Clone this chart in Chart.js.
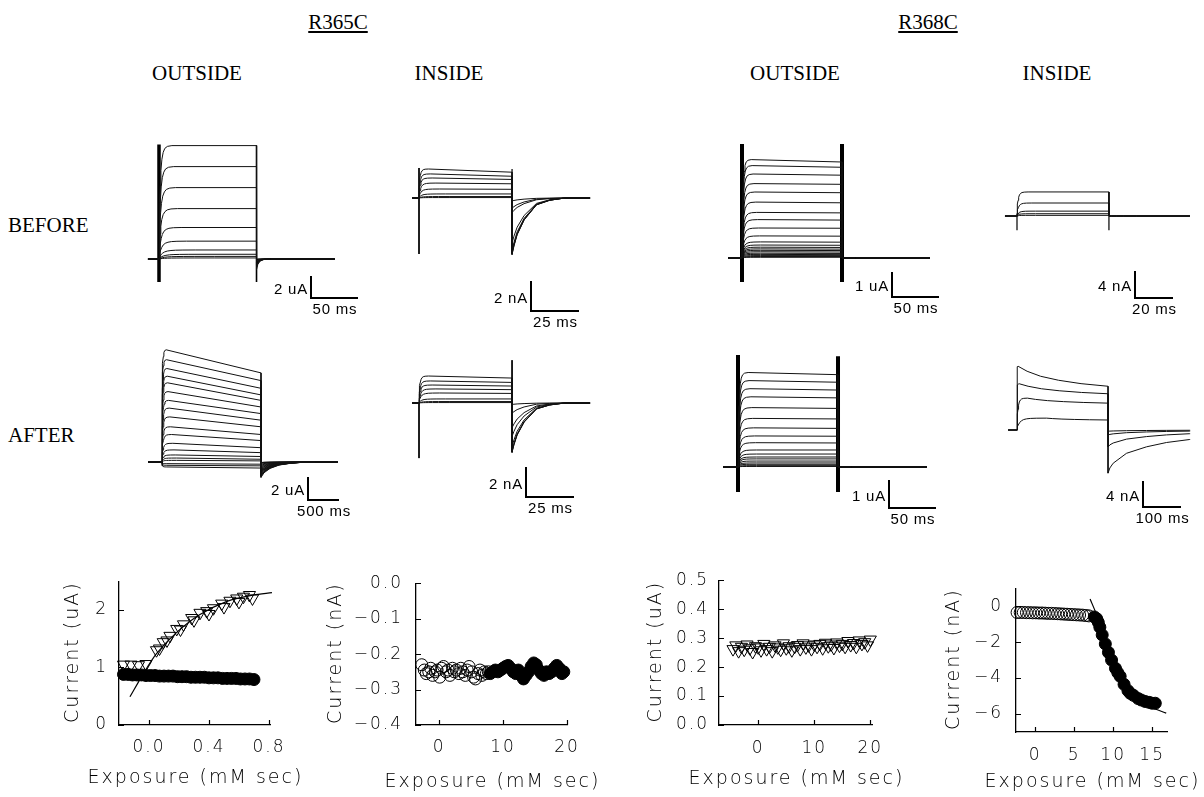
<!DOCTYPE html>
<html><head><meta charset="utf-8">
<script src="https://cdn.jsdelivr.net/npm/chart.js@4.4.1/dist/chart.umd.min.js"></script>
<style>
html,body{margin:0;padding:0;background:#fff;}
body{width:1204px;height:797px;position:relative;overflow:hidden;}
.lbl{position:absolute;font-family:"Liberation Serif","Times New Roman",serif;font-size:21px;line-height:22px;color:#000;white-space:nowrap;transform:translate(-50%,-50%);}
.row{position:absolute;font-family:"Liberation Serif","Times New Roman",serif;font-size:21px;line-height:22px;color:#000;white-space:nowrap;transform:translateY(-50%);}
.u{text-decoration:underline;text-underline-offset:2px;}
canvas{position:absolute;}
</style></head><body>
<div class="lbl u" style="left:338px;top:22px">R365C</div>
<div class="lbl u" style="left:928px;top:22px">R368C</div>
<div class="lbl" style="left:197px;top:73px">OUTSIDE</div>
<div class="lbl" style="left:449px;top:73px">INSIDE</div>
<div class="lbl" style="left:795px;top:73px">OUTSIDE</div>
<div class="lbl" style="left:1057px;top:73px">INSIDE</div>
<div class="row" style="left:8px;top:225px">BEFORE</div>
<div class="row" style="left:8px;top:435px">AFTER</div>
<script>
// ===== Current-trace families =====
// R365C outside, before (uA, ms)
const r365OutBeforeStart = [10.8, 8.8, 6.8, 4.8, 3.0, 1.7, 0.86, 0.45, 0.25, 0.1];
const r365OutBeforeEnd   = [10.8, 8.8, 6.8, 4.8, 3.0, 1.7, 0.86, 0.45, 0.25, 0.1];
const r365OutBeforeTail  = [-1.0, -0.8, -0.6, -0.5, -0.4, -0.3, -0.2, -0.1, -0.05, 0];
const r365OutBeforeRise  = [0.7, 0.8, 0.9, 1.0, 1.2, 1.5, 2, 2.5, 3, 3];
const r365OutBeforeArtifacts = [[0, 10.9, -2.2], [106, 10.8, -2.2]];
// R365C inside, before (nA, ms)
const r365InBeforeStart = [2.0, 1.66, 1.38, 1.03, 0.62, 0.28, 0.1, 0.03];
const r365InBeforeEnd   = [1.78, 1.5, 1.28, 0.98, 0.6, 0.28, 0.1, 0.03];
const r365InBeforeTail  = [-3.9, -3.85, -3.8, -3.6, -3.1, -1.0, -0.7, -0.2];
const r365InBeforeRise  = [0.25, 0.3, 0.35, 0.45, 0.55, 0.7, 0.8, 0.8];
const r365InBeforeArtifacts = [[0, 2.07, -3.86], [49.5, 2.0, -3.9]];
// R368C outside, before (uA, ms)
const r368OutBeforeStart = [4.1, 3.85, 3.5, 3.1, 2.75, 2.33, 1.9, 1.6, 1.25, 0.92, 0.67, 0.54, 0.45, 0.38, 0.32, 0.26, 0.2, 0.15, 0.1, 0.06, 0.03];
const r368OutBeforeEnd   = [4.0, 3.78, 3.45, 3.07, 2.72, 2.3, 1.88, 1.58, 1.24, 0.91, 0.66, 0.53, 0.44, 0.37, 0.31, 0.25, 0.19, 0.14, 0.1, 0.06, 0.03];
const r368OutBeforeTail  = [0, 0, 0, 0, 0, 0, 0, 0, 0, 0, 0, 0, 0, 0, 0, 0, 0, 0, 0, 0, 0];
const r368OutBeforeRise  = [0.5, 0.55, 0.6, 0.65, 0.7, 0.75, 0.8, 0.85, 0.9, 0.95, 1, 1, 1, 1, 1, 1, 1, 1, 1, 1, 1];
const r368OutBeforeArtifacts = [[0, 4.75, -1.0], [108.7, 4.75, -1.0]];
// R368C inside, before (nA, ms)
const r368InBeforeStart = [3.7, 2.0, 0.75, 0.35, 0.1];
const r368InBeforeEnd   = [3.7, 2.0, 0.75, 0.35, 0.1];
const r368InBeforeTail  = [0, 0, 0, 0, 0];
const r368InBeforeRise  = [0.3, 0.4, 0.5, 0.5, 0.5];
const r368InBeforeArtifacts = [[0, 0.4, -2.2], [49.7, 3.7, -2.2]];
// R365C outside, after (uA, ms)
const r365OutAfterStart = [10.2, 9.3, 8.5, 7.8, 7.2, 6.4, 5.6, 4.9, 4.1, 3.2, 2.5, 1.7, 1.1, 0.64, 0.36, 0.15, -0.15, -0.3, -0.45];
const r365OutAfterEnd   = [8.1, 7.4, 6.7, 6.1, 5.6, 5.0, 4.4, 3.8, 3.2, 2.5, 1.95, 1.3, 0.85, 0.5, 0.25, 0.1, -0.2, -0.35, -0.55];
const r365OutAfterTail  = [-1.4, -1.3, -1.25, -1.2, -1.1, -1.0, -0.95, -0.9, -0.8, -0.7, -0.6, -0.5, -0.4, -0.3, -0.2, -0.1, -0.05, -0.05, -0.05];
const r365OutAfterRise  = [3.5, 3.7, 4, 4.3, 4.6, 5, 5.5, 6, 6.5, 7, 8, 9, 10, 11, 12, 12, 4, 4, 4];
const r365OutAfterArtifacts = [];
// R365C inside, after (nA, ms)
const r365InAfterStart = [1.86, 1.52, 1.24, 0.97, 0.69, 0.28, 0.1, 0.03];
const r365InAfterEnd   = [1.72, 1.42, 1.17, 0.92, 0.66, 0.28, 0.1, 0.03];
const r365InAfterTail  = [-3.4, -3.35, -3.3, -3.0, -2.3, -1.7, -0.7, -0.1];
const r365InAfterRise  = [0.25, 0.3, 0.35, 0.45, 0.55, 0.7, 0.8, 0.8];
const r365InAfterArtifacts = [[0, 0, -3.8], [49.5, 2.95, -3.4]];
// R368C outside, after (uA, ms)
const r368OutAfterStart = [3.5, 3.2, 2.9, 2.6, 2.2, 1.8, 1.45, 1.15, 0.9, 0.63, 0.48, 0.37, 0.3, 0.22, 0.15, 0.1, 0.05, 0.02];
const r368OutAfterEnd   = [3.42, 3.14, 2.85, 2.56, 2.17, 1.78, 1.43, 1.14, 0.89, 0.63, 0.48, 0.37, 0.3, 0.22, 0.15, 0.1, 0.05, 0.02];
const r368OutAfterTail  = [0, 0, 0, 0, 0, 0, 0, 0, 0, 0, 0, 0, 0, 0, 0, 0, 0, 0];
const r368OutAfterRise  = [0.55, 0.6, 0.65, 0.7, 0.75, 0.8, 0.85, 0.9, 0.95, 1, 1, 1, 1, 1, 1, 1, 1, 1];
const r368OutAfterArtifacts = [[0, 4.15, -0.93], [108.7, 4.1, -0.93]];
// R368C inside, after (nA, ms)
const r368InAfterStart = [10.2, 7.4, 5.1, 1.9];
const r368InAfterEnd   = [7.0, 5.8, 4.3, 1.6];
const r368InAfterTail  = [-6.9, -2.7, -0.8, -0.2];
const r368InAfterRise  = [0.15, 0.3, 1.4, 4];
const r368InAfterArtifacts = [];

// shared time-course shapes
const riseTimes = [0, 0.6, 1.2, 2, 3, 4.5, 6.5, 9, 13, 20];
const riseFrac  = [0, 0.3, 0.5, 0.65, 0.78, 0.88, 0.94, 0.975, 0.993, 1];
const flatTimes = [0, 1];
const flatFrac  = [0, 1];
const sagTimes  = [0, 0.1, 0.25, 0.45, 0.7, 1];
const sagFrac   = [0, 0.25, 0.5, 0.7, 0.87, 1];
const tailQuickT = [0, 1.5, 4, 8, 15];
const tailQuickF = [1, 0.5, 0.2, 0.05, 0];
const tailInsideT = [0, 1, 2.7, 6.4, 13, 20, 28];
const tailInsideF = [1, 0.85, 0.65, 0.39, 0.12, 0.04, 0];
const tailLongT = [0, 50, 150, 300, 500, 700, 900];
const tailLongF = [1, 0.7, 0.42, 0.2, 0.08, 0.02, 0];
const tailSlowT = [0, 5, 14, 50, 104, 158, 221];
const tailSlowF = [1, 0.88, 0.77, 0.54, 0.39, 0.29, 0.22];

// ===== Exposure plots =====
const r365OutClosedX = [-0.17,-0.14,-0.11,-0.08,-0.05,-0.02,0.01,0.04,0.07,0.10,0.13,0.16,0.19,0.22,0.25,0.28,0.31,0.34,0.37,0.40,0.43,0.46,0.49,0.52,0.55,0.58,0.61,0.64,0.67,0.70];
const r365OutClosedY = [0.88,0.88,0.87,0.87,0.87,0.86,0.86,0.86,0.85,0.85,0.85,0.85,0.84,0.84,0.84,0.83,0.83,0.83,0.83,0.82,0.82,0.82,0.81,0.81,0.81,0.81,0.80,0.80,0.80,0.79];
const r365OutOpenX = [-0.17,-0.12,-0.07,-0.02,0.05,0.07,0.095,0.12,0.14,0.185,0.21,0.23,0.285,0.30,0.34,0.385,0.40,0.43,0.485,0.50,0.54,0.585,0.60,0.63,0.67,0.69];
const r365OutOpenY = [1.05,1.05,1.04,1.06,1.30,1.33,1.44,1.47,1.55,1.67,1.66,1.75,1.86,1.82,1.95,1.98,1.93,2.03,2.11,2.05,2.16,2.2,2.14,2.23,2.26,2.2];
const r365OutFitX = [-0.127,-0.04,0.05,0.185,0.34,0.52,0.695,0.82];
const r365OutFitY = [0.49,0.88,1.24,1.61,1.92,2.15,2.26,2.3];
const r365OutXTicks = [0, 0.4, 0.8];
const r365OutXLabels = ['0.0', '0.4', '0.8'];
const r365OutYTicks = [0, 1, 2];
const r365OutYLabels = ['0', '1', '2'];

const r365InOpenX = [-2.7,-2.3,-2.0,-1.6,-1.3,-1.0,-0.6,-0.3,0.1,0.4,0.7,1.1,1.4,1.7,2.1,2.4,2.7,3.1,3.4,3.7,4.1,4.4,4.7,5.1,5.4,5.7,6.1,6.4,6.7,7.1,7.4,7.7];
const r365InOpenY = [-0.23,-0.245,-0.255,-0.25,-0.24,-0.26,-0.25,-0.245,-0.265,-0.24,-0.235,-0.25,-0.245,-0.26,-0.24,-0.25,-0.245,-0.255,-0.24,-0.25,-0.26,-0.245,-0.235,-0.25,-0.265,-0.27,-0.255,-0.245,-0.26,-0.25,-0.255,-0.25];
const r365InClosedX = [8.0,8.4,8.8,9.2,9.6,10.0,10.4,10.8,11.2,11.6,12.0,12.4,12.8,13.2,13.6,14.0,14.4,14.8,15.2,15.6,16.0,16.4,16.8,17.2,17.6,18.0,18.4,18.8,19.2,19.5];
const r365InClosedY = [-0.255,-0.25,-0.245,-0.25,-0.245,-0.24,-0.235,-0.232,-0.24,-0.25,-0.255,-0.245,-0.26,-0.27,-0.26,-0.25,-0.235,-0.225,-0.23,-0.245,-0.255,-0.26,-0.25,-0.255,-0.25,-0.24,-0.232,-0.24,-0.255,-0.25];
const r365InXTicks = [0, 10, 20];
const r365InXLabels = ['0', '10', '20'];
const r365InYTicks = [0, -0.1, -0.2, -0.3, -0.4];
const r365InYLabels = ['0.0', '\u22120.1', '\u22120.2', '\u22120.3', '\u22120.4'];

const r368OutOpenX = [-4.5,-4,-3.5,-3,-2.5,-2,-1.5,-1,-0.5,0,0.5,1,1.5,2,2.5,3,3.5,4,4.5,5,5.5,6,6.5,7,7.5,8,8.5,9,9.5,10,10.5,11,11.5,12,12.5,13,13.5,14,14.5,15,15.5,16,16.5,17,17.5,18,18.5,19,19.5,20];
const r368OutOpenY = [0.262,0.275,0.255,0.27,0.26,0.278,0.265,0.252,0.272,0.268,0.258,0.28,0.262,0.27,0.255,0.275,0.268,0.26,0.282,0.265,0.272,0.258,0.27,0.276,0.262,0.282,0.268,0.275,0.262,0.278,0.27,0.28,0.265,0.284,0.272,0.278,0.266,0.285,0.274,0.28,0.27,0.29,0.276,0.283,0.27,0.292,0.28,0.286,0.275,0.295];
const r368OutXTicks = [0, 10, 20];
const r368OutXLabels = ['0', '10', '20'];
const r368OutYTicks = [0, 0.1, 0.2, 0.3, 0.4, 0.5];
const r368OutYLabels = ['0.0', '0.1', '0.2', '0.3', '0.4', '0.5'];

const r368InOpenX = [-2.3,-1.9,-1.5,-1.1,-0.7,-0.3,0.1,0.5,0.9,1.3,1.7,2.1,2.5,2.9,3.3,3.7,4.1,4.5,4.9,5.3,5.7,6.1,6.5,6.9];
const r368InOpenY = [-0.35,-0.35,-0.35,-0.36,-0.36,-0.37,-0.37,-0.38,-0.38,-0.39,-0.4,-0.4,-0.41,-0.42,-0.43,-0.44,-0.45,-0.46,-0.47,-0.48,-0.49,-0.5,-0.52,-0.54];
const r368InClosedX = [7.6,7.9,8.1,8.3,8.6,9.0,9.4,9.8,10.3,10.6,10.9,11.4,11.9,12.2,12.6,13.2,13.6,14.1,14.6,15.0,15.4];
const r368InClosedY = [-0.6,-0.7,-0.9,-1.17,-1.6,-2.1,-2.57,-3.0,-3.46,-3.7,-3.9,-4.35,-4.7,-4.85,-4.96,-5.14,-5.22,-5.3,-5.35,-5.4,-5.4];
const r368InFitX = [7.05,8,9,10,11,12,13,14,15,16.8];
const r368InFitY = [0.4,-0.6,-1.9,-3.1,-4.0,-4.7,-5.15,-5.45,-5.65,-5.95];
const r368InXTicks = [0, 5, 10, 15];
const r368InXLabels = ['0', '5', '10', '15'];
const r368InYTicks = [0, -2, -4, -6];
const r368InYLabels = ['0', '\u22122', '\u22124', '\u22126'];

// ===== rendering =====
Chart.defaults.animation = false;
Chart.defaults.responsive = false;
Chart.defaults.maintainAspectRatio = false;
Chart.defaults.events = [];

function makeCanvas(left, top, w, h) {
  const c = document.createElement('canvas');
  c.width = w; c.height = h;
  c.style.left = left + 'px'; c.style.top = top + 'px';
  c.style.width = w + 'px'; c.style.height = h + 'px';
  document.body.appendChild(c);
  return c;
}
const zip = (xs, ys) => xs.map((x, i) => ({x: x, y: ys[i]}));

function buildTrace(s, e, tailAmp, rs, P) {
  const pts = [{x: P.pre, y: 0}, {x: 0, y: 0}];
  riseTimes.forEach((t, k) => pts.push({x: t * rs, y: s * riseFrac[k]}));
  const tr = riseTimes[riseTimes.length - 1] * rs;
  P.plat[0].forEach((f, k) => pts.push({x: tr + f * (P.end - tr), y: s + (e - s) * P.plat[1][k]}));
  P.tail[0].forEach((t, k) => pts.push({x: P.end + t, y: tailAmp * P.tail[1][k]}));
  pts.push({x: P.post, y: pts[pts.length - 1].y});
  return pts;
}

const barText = {
  id: 'barText',
  afterDatasetsDraw(chart, args, o) {
    if (!o || !o.yText) return;
    const {ctx, scales: {x, y}} = chart;
    const bx = x.getPixelForValue(o.x), by = y.getPixelForValue(o.y);
    const byTop = y.getPixelForValue(o.y + o.dy), bx2 = x.getPixelForValue(o.x + o.dx);
    ctx.save();
    ctx.fillStyle = '#000';
    ctx.font = '15px "Liberation Sans", Arial, sans-serif';
    try { ctx.letterSpacing = '0.8px'; } catch (err) {}
    ctx.textAlign = 'right'; ctx.textBaseline = 'middle';
    ctx.fillText(o.yText, bx - 3, (by + byTop) / 2 + 2);
    ctx.textAlign = 'center'; ctx.textBaseline = 'top';
    ctx.fillText(o.xText, (bx + bx2) / 2 + 1, by + 4);
    ctx.restore();
  }
};

const panels = [
  {rect: [140, 135, 235, 190], x0: 159, pxX: 0.92, y0: 259, pxY: 10.5, pre: -12, end: 106, post: 191,
   start: r365OutBeforeStart, stop: r365OutBeforeEnd, tails: r365OutBeforeTail, rise: r365OutBeforeRise,
   plat: [flatTimes, flatFrac], tail: [tailQuickT, tailQuickF], art: r365OutBeforeArtifacts, artW: [3.5, 1.6],
   bar: {px: 311, py: 298, dx: 50, dy: 2, yText: '2 uA', xText: '50 ms'}},
  {rect: [395, 150, 200, 180], x0: 419, pxX: 1.88, y0: 198, pxY: 14.5, pre: -3.7, end: 49.5, post: 91,
   start: r365InBeforeStart, stop: r365InBeforeEnd, tails: r365InBeforeTail, rise: r365InBeforeRise,
   plat: [flatTimes, flatFrac], tail: [tailInsideT, tailInsideF], art: r365InBeforeArtifacts, artW: [1, 1.2],
   bar: {px: 531, py: 311, dx: 25, dy: 2, yText: '2 nA', xText: '25 ms'}},
  {rect: [715, 135, 235, 190], x0: 742, pxX: 0.92, y0: 258, pxY: 24, pre: -15, end: 108.7, post: 204,
   start: r368OutBeforeStart, stop: r368OutBeforeEnd, tails: r368OutBeforeTail, rise: r368OutBeforeRise,
   plat: [flatTimes, flatFrac], tail: [tailQuickT, tailQuickF], art: r368OutBeforeArtifacts, artW: [4, 4],
   bar: {px: 892, py: 297, dx: 50, dy: 1, yText: '1 uA', xText: '50 ms'}},
  {rect: [995, 165, 209, 160], x0: 1017, pxX: 1.85, y0: 216, pxY: 6.5, pre: -6.5, end: 49.7, post: 93.5,
   start: r368InBeforeStart, stop: r368InBeforeEnd, tails: r368InBeforeTail, rise: r368InBeforeRise,
   plat: [flatTimes, flatFrac], tail: [tailQuickT, tailQuickF], art: r368InBeforeArtifacts, artW: [1.2, 1.2],
   bar: {px: 1135, py: 298, dx: 20, dy: 4, yText: '4 nA', xText: '20 ms'}},
  {rect: [140, 335, 235, 190], x0: 162, pxX: 0.06, y0: 462, pxY: 11, pre: -233, end: 1650, post: 2933,
   start: r365OutAfterStart, stop: r365OutAfterEnd, tails: r365OutAfterTail, rise: r365OutAfterRise,
   plat: [flatTimes, flatFrac], tail: [tailLongT, tailLongF], art: r365OutAfterArtifacts, artW: [],
   bar: {px: 308, py: 500, dx: 500, dy: 2, yText: '2 uA', xText: '500 ms'}},
  {rect: [395, 345, 200, 180], x0: 419, pxX: 1.88, y0: 403, pxY: 14.5, pre: -3.7, end: 49.5, post: 91,
   start: r365InAfterStart, stop: r365InAfterEnd, tails: r365InAfterTail, rise: r365InAfterRise,
   plat: [flatTimes, flatFrac], tail: [tailInsideT, tailInsideF], art: r365InAfterArtifacts, artW: [1, 1],
   bar: {px: 526, py: 497, dx: 25, dy: 2, yText: '2 nA', xText: '25 ms'}},
  {rect: [715, 340, 235, 195], x0: 738, pxX: 0.92, y0: 467, pxY: 27, pre: -16, end: 108.7, post: 205,
   start: r368OutAfterStart, stop: r368OutAfterEnd, tails: r368OutAfterTail, rise: r368OutAfterRise,
   plat: [flatTimes, flatFrac], tail: [tailQuickT, tailQuickF], art: r368OutAfterArtifacts, artW: [4, 4],
   bar: {px: 889, py: 508, dx: 50, dy: 1, yText: '1 uA', xText: '50 ms'}},
  {rect: [995, 345, 209, 190], x0: 1017, pxX: 0.37, y0: 430, pxY: 6.25, pre: -24, end: 246, post: 468,
   start: r368InAfterStart, stop: r368InAfterEnd, tails: r368InAfterTail, rise: r368InAfterRise,
   plat: [sagTimes, sagFrac], tail: [tailSlowT, tailSlowF], art: r368InAfterArtifacts, artW: [],
   bar: {px: 1143, py: 507, dx: 100, dy: 4, yText: '4 nA', xText: '100 ms'}}
];

panels.forEach(P => {
  const [L, T, W, H] = P.rect;
  const cv = makeCanvas(L, T, W, H);
  const ds = [];
  P.start.forEach((s, i) => {
    ds.push({data: buildTrace(s, P.stop[i], P.tails[i], P.rise[i], P),
      showLine: true, borderColor: '#111', borderWidth: 1, pointRadius: 0, tension: 0});
  });
  P.art.forEach((a, i) => {
    ds.push({data: [{x: a[0], y: a[1]}, {x: a[0], y: a[2]}], showLine: true, borderColor: '#000',
      borderWidth: P.artW[i], pointRadius: 0});
  });
  const b = P.bar;
  const bx = (b.px - P.x0) / P.pxX, by = (P.y0 - b.py) / P.pxY;
  ds.push({data: [{x: bx, y: by + b.dy}, {x: bx, y: by}, {x: bx + b.dx, y: by}], showLine: true,
    borderColor: '#000', borderWidth: 2, pointRadius: 0, borderJoinStyle: 'miter', borderCapStyle: 'square'});
  new Chart(cv, {
    type: 'scatter',
    data: {datasets: ds},
    options: {
      layout: {padding: 0},
      scales: {
        x: {type: 'linear', display: false, min: (L - P.x0) / P.pxX, max: (L + W - P.x0) / P.pxX},
        y: {type: 'linear', display: false, min: (P.y0 - (T + H)) / P.pxY, max: (P.y0 - T) / P.pxY}
      },
      plugins: {legend: {display: false}, tooltip: {enabled: false},
        barText: {x: bx, y: by, dx: b.dx, dy: b.dy, yText: b.yText, xText: b.xText}}
    },
    plugins: [barText]
  });
});

// ===== bottom exposure charts =====
const tickFont = {family: '"DejaVu Sans", sans-serif', size: 17, weight: '200'};
const titleCss = '200 19px "DejaVu Sans", sans-serif';

const inwardTicks = {
  id: 'inwardTicks',
  afterDraw(chart) {
    const {ctx, chartArea: a, scales: {x, y}} = chart;
    ctx.save(); ctx.strokeStyle = '#000'; ctx.lineWidth = 1.2;
    ctx.beginPath();
    x.ticks.forEach(t => { const p = Math.round(x.getPixelForValue(t.value)) + 0.5; ctx.moveTo(p, a.bottom); ctx.lineTo(p, a.bottom - 5); });
    y.ticks.forEach(t => { const p = Math.round(y.getPixelForValue(t.value)) + 0.5; ctx.moveTo(a.left, p); ctx.lineTo(a.left + 5, p); });
    ctx.stroke(); ctx.restore();
  }
};
const spacing = { id: 'spacing', beforeDraw(chart) { try { chart.ctx.letterSpacing = '2px'; } catch (e) {} } };
// axis titles drawn as canvas text without width compression
const axisTitles = {
  id: 'axisTitles',
  afterDraw(chart, args, o) {
    const {ctx, chartArea: a} = chart;
    ctx.save();
    ctx.fillStyle = '#000';
    ctx.font = titleCss;
    try { ctx.letterSpacing = '2px'; } catch (e) {}
    ctx.textAlign = 'center'; ctx.textBaseline = 'middle';
    ctx.fillText(o.xText, (a.left + a.right) / 2 + 1, o.xMid);
    ctx.translate(o.yMid, (a.top + a.bottom) / 2);
    ctx.rotate(-Math.PI / 2);
    ctx.fillText(o.yText, 1, 0);
    ctx.restore();
  }
};

function exposureChart(c) {
  const [L, T, W, H] = c.canvas;
  const [pl, pt, pr, pb] = c.plot;
  const cv = makeCanvas(L, T, W, H);
  new Chart(cv, {
    type: 'scatter',
    data: {datasets: c.datasets},
    options: {
      layout: {padding: {left: 0, top: pt - T, right: L + W - pr, bottom: 0}},
      scales: {
        x: {type: 'linear', position: 'bottom', min: c.xMin, max: c.xMax,
          grid: {display: false, drawTicks: false}, border: {display: true, color: '#000', width: 1.3},
          ticks: {padding: c.xLabelPad, color: '#000', font: tickFont, maxRotation: 0, autoSkip: false,
            callback: (v, i) => c.xLabels[i]},
          title: {display: false},
          afterBuildTicks: s => { s.ticks = c.xTicks.map(v => ({value: v})); },
          afterFit: s => { s.height = T + H - pb; }},
        y: {type: 'linear', position: 'left', min: c.yMin, max: c.yMax,
          grid: {display: false, drawTicks: false}, border: {display: true, color: '#000', width: 1.3},
          ticks: {padding: c.yLabelPad, color: '#000', font: tickFont, autoSkip: false,
            callback: (v, i) => c.yLabels[i]},
          title: {display: false},
          afterBuildTicks: s => { s.ticks = c.yTicks.map(v => ({value: v})); },
          afterFit: s => { s.width = pl - L; }}
      },
      plugins: {legend: {display: false}, tooltip: {enabled: false},
        axisTitles: {xText: 'Exposure (mM sec)', yText: c.yTitle, xMid: c.xTitleMid - T, yMid: c.yTitleX - L}}
    },
    plugins: [spacing, inwardTicks, axisTitles]
  });
}

const closedStyle = {showLine: false, pointStyle: 'circle', pointRadius: 6, backgroundColor: '#000', borderColor: '#000', borderWidth: 1, clip: false};
const openCircle = {showLine: false, pointStyle: 'circle', pointRadius: 6, backgroundColor: 'rgba(0,0,0,0)', borderColor: '#000', borderWidth: 1, clip: false};
const openTri = {showLine: false, pointStyle: 'triangle', rotation: 180, pointRadius: 7, backgroundColor: 'rgba(0,0,0,0)', borderColor: '#000', borderWidth: 1, clip: false};
const fitStyle = {showLine: true, pointRadius: 0, borderColor: '#000', borderWidth: 1.2, tension: 0.3, clip: false};

exposureChart({canvas: [50, 560, 262, 237], plot: [119, 577, 270, 725], xMin: -0.2, xMax: 0.807, yMin: 0, yMax: 2.5,
  yTitle: 'Current (uA)', yTitleX: 73, yLabelPad: 11, xLabelPad: 12, xTitleMid: 778,
  xTicks: r365OutXTicks, xLabels: r365OutXLabels, yTicks: r365OutYTicks, yLabels: r365OutYLabels,
  datasets: [
    Object.assign({data: zip(r365OutOpenX, r365OutOpenY)}, openTri),
    Object.assign({data: zip(r365OutFitX, r365OutFitY)}, fitStyle),
    Object.assign({data: zip(r365OutClosedX, r365OutClosedY)}, closedStyle)
  ]});

exposureChart({canvas: [320, 560, 287, 237], plot: [416, 577, 567, 725], xMin: -3.6, xMax: 20, yMin: -0.4, yMax: 0,
  yTitle: 'Current (nA)', yTitleX: 336, yLabelPad: 13, xLabelPad: 12, xTitleMid: 782,
  xTicks: r365InXTicks, xLabels: r365InXLabels, yTicks: r365InYTicks, yLabels: r365InYLabels,
  datasets: [
    Object.assign({data: zip(r365InOpenX, r365InOpenY)}, openCircle),
    Object.assign({data: zip(r365InClosedX, r365InClosedY)}, closedStyle)
  ]});

exposureChart({canvas: [630, 560, 277, 237], plot: [719, 577, 872, 725], xMin: -7, xMax: 20.3, yMin: 0, yMax: 0.5,
  yTitle: 'Current (uA)', yTitleX: 656, yLabelPad: 10, xLabelPad: 13, xTitleMid: 779,
  xTicks: r368OutXTicks, xLabels: r368OutXLabels, yTicks: r368OutYTicks, yLabels: r368OutYLabels,
  datasets: [
    Object.assign({data: zip(r368OutOpenX, r368OutOpenY)}, openTri)
  ]});

exposureChart({canvas: [930, 565, 274, 232], plot: [1016, 582, 1167, 732], xMin: -2.44, xMax: 16.9, yMin: -7, yMax: 1,
  yTitle: 'Current (nA)', yTitleX: 954, yLabelPad: 13, xLabelPad: 13, xTitleMid: 782,
  xTicks: r368InXTicks, xLabels: r368InXLabels, yTicks: r368InYTicks, yLabels: r368InYLabels,
  datasets: [
    Object.assign({data: zip(r368InOpenX, r368InOpenY)}, openCircle),
    Object.assign({data: zip(r368InFitX, r368InFitY)}, fitStyle),
    Object.assign({data: zip(r368InClosedX, r368InClosedY)}, closedStyle)
  ]});
</script>
</body></html>
